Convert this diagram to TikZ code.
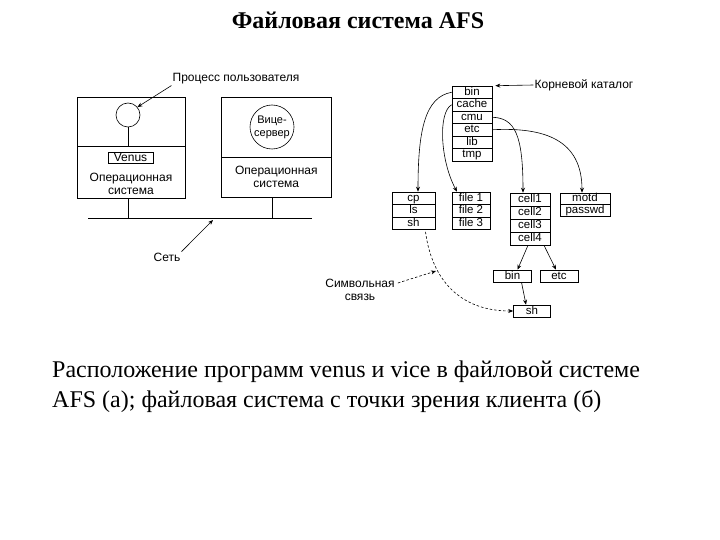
\documentclass[tikz,border=0pt]{standalone}
\usepackage{fontspec}
\setmainfont{Liberation Serif}
\setsansfont{Liberation Sans}
\usepackage{tikz}
\usetikzlibrary{arrows.meta, calc}

\begin{document}
\begin{tikzpicture}[
  x=1pt, y=-1pt,
  font=\sffamily\fontsize{12}{13}\selectfont,
  >={Stealth[length=5pt, width=4pt]},
  ramka/.style={draw, line width=0.6pt, inner sep=0pt, align=center},
  yach/.style={draw, line width=0.6pt, inner sep=0pt, minimum height=12.5pt,
               text height=8pt, text depth=2pt,
               font=\sffamily\fontsize{11.5}{12}\selectfont},
  krug/.style={draw, circle, line width=0.6pt, inner sep=0pt, align=center},
  metka/.style={align=center, inner sep=1pt},
  linia/.style={line width=0.6pt},
  strelka/.style={->, line width=0.6pt},
  strelkapunkt/.style={->, line width=0.6pt, dash pattern=on 2.5pt off 2pt},
  podpis/.style={font=\rmfamily\fontsize{24}{28}\selectfont, anchor=base west, inner sep=0pt}
]
\fill[white, use as bounding box] (0,0) rectangle (720,540);

% ---------- Заголовок ----------
\node[font=\rmfamily\bfseries\fontsize{24}{28}\selectfont, anchor=base] (zag) at (358,29) {Файловая система AFS};

% ---------- (а) Клиент ----------
\node[ramka, minimum width=108, minimum height=49, anchor=north west] (klverh) at (77,97) {};
\node[ramka, minimum width=108, minimum height=52, anchor=north west] (klniz) at (77,146) {};
\node[krug, minimum size=24] (proc) at (128,115) {};
\node[ramka, minimum width=45, minimum height=11] (venus) at (130.5,157.5) {Venus};
\node[metka] (osk) at (131,184) {Операционная\\система};

% ---------- (а) Сервер ----------
\node[ramka, minimum width=110, minimum height=60, anchor=north west] (svverh) at (221,97) {};
\node[ramka, minimum width=110, minimum height=40, anchor=north west] (svniz) at (221,157) {Операционная\\система};
\node[krug, minimum size=44, font=\sffamily\fontsize{11}{13}\selectfont] (vice) at (272,127) {Вице-\\сервер};

% ---------- Сеть ----------
\coordinate (setL) at (88,218);
\coordinate (setR) at (312,218);
\coordinate (setpt) at (213,220);
\draw[linia] (setL) -- (setR);
\draw[linia] (proc.south) -- (proc.south |- klverh.south);
\draw[linia] (proc.south |- klniz.south) -- (proc.south |- setL);
\draw[linia] (vice.south |- svniz.south) -- (vice.south |- setL);

% ---------- Подписи (а) ----------
\node[metka] (lblproc) at (236,79) {Процесс пользователя};
\node[metka] (lblset) at (167,257) {Сеть};
\draw[strelka] (lblproc.south west) -- (proc.40);
\draw[strelka] (lblset.north east) -- (setpt);

% ---------- (б) Корневой каталог ----------
\node[yach, minimum width=40] (kbin)   at (472,92.25)  {bin};
\node[yach, minimum width=40] (kcache) at (472,104.75) {cache};
\node[yach, minimum width=40] (kcmu)   at (472,117.25) {cmu};
\node[yach, minimum width=40] (ketc)   at (472,129.75) {etc};
\node[yach, minimum width=40] (klib)   at (472,142.25) {lib};
\node[yach, minimum width=40] (ktmp)   at (472,154.75) {tmp};

% ---------- (б) Подкаталоги ----------
\node[yach, minimum width=43] (dcp) at (413.5,198.25) {cp};
\node[yach, minimum width=43] (dls) at (413.5,210.75) {ls};
\node[yach, minimum width=43] (dsh) at (413.5,223.25) {sh};

\node[yach, minimum width=38] (f1) at (471,198.25) {file 1};
\node[yach, minimum width=38] (f2) at (471,210.75) {file 2};
\node[yach, minimum width=38] (f3) at (471,223.25) {file 3};

\node[yach, minimum width=40, minimum height=13] (c1) at (530,199.5) {cell1};
\node[yach, minimum width=40, minimum height=13] (c2) at (530,212.5) {cell2};
\node[yach, minimum width=40, minimum height=13] (c3) at (530,225.5) {cell3};
\node[yach, minimum width=40, minimum height=13] (c4) at (530,238.5) {cell4};

\node[yach, minimum width=50, minimum height=11.5] (mmotd)   at (585,198.75) {motd};
\node[yach, minimum width=50, minimum height=11.5] (mpasswd) at (585,210.25) {passwd};

\node[yach, minimum width=38, minimum height=12] (lbin) at (512.5,276) {bin};
\node[yach, minimum width=38, minimum height=12] (letc) at (559,276)   {etc};
\node[yach, minimum width=37, minimum height=12] (lsh)  at (532,311)   {sh};

% ---------- (б) Связи между каталогами ----------
\draw[strelka] (kbin.west) .. controls (425,97) and (418,130) .. ($(dcp.north)+(4.5,0)$);
\draw[strelka] (kcache.west) .. controls (438,112) and (440,160) .. ($(f1.north)+(-14,0)$);
\draw[strelka] (kcmu.east) .. controls (515,118) and (523,135) .. ($(c1.north)+(-7,0)$);
\draw[strelka] (ketc.east) .. controls (545,127) and (582,140) .. ($(mmotd.north)+(-3,0)$);
\draw[strelka] ($(c4.south)+(-2,0)$) -- ($(lbin.north)+(5,0)$);
\draw[strelka] ($(c4.south)+(14,0)$) -- ($(letc.north)+(-3,0)$);
\draw[strelka] ($(lbin.south)+(9,0)$) -- ($(lsh.north)+(-6,0)$);

% ---------- (б) Символьная связь ----------
\coordinate (simpt) at (436,271);
\draw[strelkapunkt] ($(dsh.south)+(12,2)$) .. controls (432,280) and (460,311) .. (lsh.west);
\node[metka] (lblsim) at (360,290) {Символьная\\связь};
\draw[strelkapunkt] ($(lblsim.east)+(2,-7)$) -- (simpt);

% ---------- Корневой каталог (подпись) ----------
\node[metka] (lblkoren) at (584,85) {Корневой каталог};
\draw[strelka] (lblkoren.west) -- ($(kbin.north east)+(3,0)$);

% ---------- Подпись к рисунку ----------
\node[podpis] (podp1) at (52,377) {Расположение программ venus и vice в файловой системе};
\node[podpis] (podp2) at (52,407) {AFS (а); файловая система с точки зрения клиента (б)};

\end{tikzpicture}
\end{document}
